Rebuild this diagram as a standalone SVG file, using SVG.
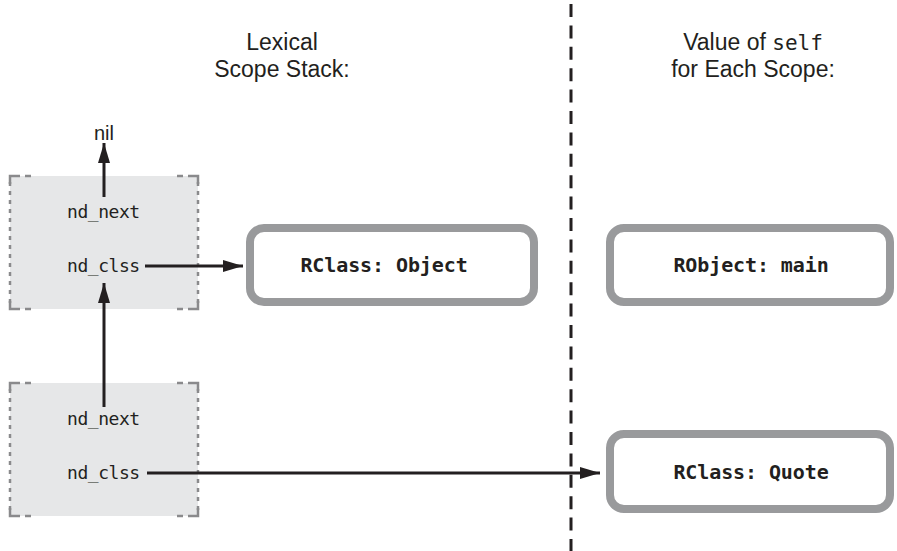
<svg xmlns="http://www.w3.org/2000/svg" width="897" height="551" viewBox="0 0 897 551">
<defs>
<marker id="ah" viewBox="0 0 20 12" markerWidth="20" markerHeight="12" refX="20" refY="6" orient="auto" markerUnits="userSpaceOnUse">
<path d="M0,0 L20,6 L0,12 Z" fill="#231f20"/>
</marker>
<style>
.title{font-family:"Liberation Sans",Arial,sans-serif;font-size:23px;fill:#231f20;text-anchor:middle}
.mono{font-family:"DejaVu Sans Mono","Liberation Mono",monospace}
.fld{font-family:"DejaVu Sans Mono","Liberation Mono",monospace;font-size:18px;letter-spacing:-0.45px;fill:#231f20}
.nil{font-family:"Liberation Sans",Arial,sans-serif;font-size:20px;fill:#231f20;text-anchor:middle}
.lbl{font-family:"DejaVu Sans Mono","Liberation Mono",monospace;font-size:20px;font-weight:bold;letter-spacing:-0.1px;fill:#231f20;text-anchor:middle}
.stack{fill:#e6e7e8}
.sedge{fill:none;stroke:#8a8a8c;stroke-width:2.5;stroke-dasharray:4 5}
.cedge{fill:none;stroke:#8a8a8c;stroke-width:2.5}
.obj{fill:#fff;stroke:#999a9c;stroke-width:8}
.conn{fill:none;stroke:#231f20;stroke-width:3}
</style>
</defs>
<g id="divider">
<line x1="571" y1="4" x2="571" y2="551" stroke="#231f20" stroke-width="3" stroke-dasharray="13 8.4"/>
</g>
<g id="titles">
<text class="title" x="282" y="50">Lexical</text>
<text class="title" x="282" y="77">Scope Stack:</text>
<text class="title" x="753" y="50">Value of <tspan class="mono" font-size="21">self</tspan></text>
<text class="title" x="753" y="77">for Each Scope:</text>
</g>
<g id="nil">
<text class="nil" x="104" y="140">nil</text>
</g>
<g id="scope1">
<rect class="stack" x="10" y="176" width="188" height="133"/>
<path class="sedge" d="M10,182 V305 M198,182 V305"/>
<path class="cedge" d="M10,184 V176 H20 M25,176 H31 M177,176 H183 M188,176 H198 V184 M10,301 V309 H20 M25,309 H31 M177,309 H183 M188,309 H198 V301"/>
<text class="fld" x="67" y="218">nd_next</text>
<text class="fld" x="67" y="272">nd_clss</text>
</g>
<g id="scope2">
<rect class="stack" x="10" y="383" width="188" height="133"/>
<path class="sedge" d="M10,389 V512 M198,389 V512"/>
<path class="cedge" d="M10,391 V383 H20 M25,383 H31 M177,383 H183 M188,383 H198 V391 M10,508 V516 H20 M25,516 H31 M177,516 H183 M188,516 H198 V508"/>
<text class="fld" x="67" y="425">nd_next</text>
<text class="fld" x="67" y="479">nd_clss</text>
</g>
<g id="rclass-object">
<rect class="obj" x="250" y="228" width="284" height="74" rx="14"/>
<text class="lbl" x="384" y="272">RClass: Object</text>
</g>
<g id="robject-main">
<rect class="obj" x="610" y="228" width="280" height="74" rx="14"/>
<text class="lbl" x="751" y="272">RObject: main</text>
</g>
<g id="rclass-quote">
<rect class="obj" x="610" y="434" width="280" height="75" rx="14"/>
<text class="lbl" x="751" y="479">RClass: Quote</text>
</g>
<g id="connectors">
<line class="conn" x1="104" y1="197" x2="104" y2="143" marker-end="url(#ah)"/>
<line class="conn" x1="104" y1="407" x2="104" y2="283" marker-end="url(#ah)"/>
<line class="conn" x1="145" y1="266" x2="243" y2="266" marker-end="url(#ah)"/>
<line class="conn" x1="147" y1="473" x2="600" y2="473" marker-end="url(#ah)"/>
</g>
</svg>
